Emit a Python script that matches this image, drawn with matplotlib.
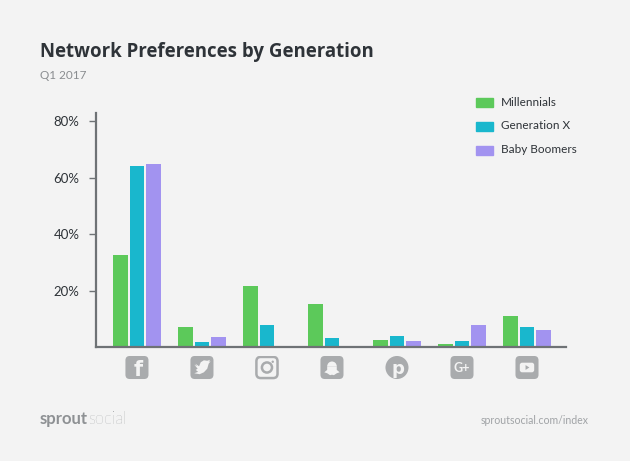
import matplotlib
matplotlib.use("Agg")
import matplotlib.pyplot as plt
from matplotlib.patches import FancyBboxPatch, Circle, Polygon, Wedge, Rectangle
import numpy as np

networks = ["Facebook", "Twitter", "Instagram", "Snapchat", "Pinterest", "Google+", "YouTube"]
millennials = [32.6, 7.1, 21.7, 15.4, 2.4, 1.0, 11.1]
gen_x = [64.3, 1.9, 7.9, 3.1, 3.8, 2.1, 7.2]
boomers = [64.9, 3.7, 0.0, 0.0, 2.3, 7.7, 6.1]
series_names = ["Millennials", "Generation X", "Baby Boomers"]
y_ticks = [20, 40, 60, 80]
y_labels = ["20%", "40%", "60%", "80%"]

bg = "#f3f3f3"
colors = ["#5cc95a", "#19b7cd", "#a293f0"]
icon_col = "#a9abad"
axis_col = "#6e7275"
text_col = "#2e3338"

plt.rcParams["font.family"] = ["Lato", "DejaVu Sans"]

W, H = 630, 461
fig = plt.figure(figsize=(6.3, 4.61), dpi=100, facecolor=bg)
ax = fig.add_axes([96 / W, 1 - 347 / H, (566 - 96) / W, (347 - 113) / H])
ax.set_facecolor(bg)

x = np.arange(len(networks))
off = 0.25
bw = 0.225
for i, vals in enumerate([millennials, gen_x, boomers]):
    ax.bar(x + (i - 1) * off, vals, width=bw, color=colors[i], label=series_names[i])

ax.set_xlim(-0.63, 6.6)
ax.set_ylim(0, 83)
ax.set_yticks(y_ticks)
ax.set_yticklabels(y_labels, fontsize=9.5, color=text_col)
ax.set_xticks([])
for s in ["top", "right"]:
    ax.spines[s].set_visible(False)
for s in ["left", "bottom"]:
    ax.spines[s].set_color(axis_col)
    ax.spines[s].set_linewidth(1.6)
ax.tick_params(axis="y", length=5, width=1, color=axis_col, pad=7)

# legend drawn by hand
for i, name in enumerate(series_names):
    yy = 1 - (102 + i * 23.8) / H
    fig.patches.append(Rectangle((476 / W, yy - 5 / H), 17 / W, 9 / H,
                                 transform=fig.transFigure, color=colors[i]))
    fig.text(501 / W, yy, name, fontsize=8.5, color=text_col, va="center")

fig.text(40 / W, 1 - 57 / H, "Network Preferences by Generation", fontsize=13.4,
         fontweight="bold", color=text_col, va="baseline", family=["Open Sans", "DejaVu Sans"])
fig.text(40 / W, 1 - 79 / H, "Q1 2017", fontsize=8.5, color="#8a8d90", va="baseline")

# footer logo: "social" placed right after "sprout"
sprout = fig.text(40 / W, 1 - 424 / H, "sprout", fontsize=12, fontweight="bold",
                  color="#8e9194", va="baseline")
fig.canvas.draw()
bb = sprout.get_window_extent()
fig.text(bb.x1 / W, 1 - 424 / H, "social", fontsize=12, fontweight="light",
         color="#8a8d90", va="baseline")
fig.text(589 / W, 1 - 424 / H, "sproutsocial.com/index", fontsize=7.6, color="#a0a3a6",
         va="baseline", ha="right")

# icons under each category
size = 24
for i, name in enumerate(networks):
    cx, _ = ax.transData.transform((x[i], 0))
    cy = 367.5
    iax = fig.add_axes([(cx - size / 2) / W, 1 - (cy + size / 2) / H, size / W, size / H])
    iax.set_xlim(0, 1)
    iax.set_ylim(0, 1)
    iax.axis("off")
    box = dict(boxstyle="round,pad=0,rounding_size=0.18")
    if name == "Instagram":
        iax.add_patch(FancyBboxPatch((0.06, 0.06), 0.88, 0.88, fc="none", ec=icon_col, lw=1.8, **box))
        iax.add_patch(Circle((0.5, 0.5), 0.21, fc="none", ec=icon_col, lw=1.8))
        iax.add_patch(Circle((0.74, 0.74), 0.05, fc=icon_col, ec="none"))
        continue
    if name == "Pinterest":
        iax.add_patch(Circle((0.5, 0.5), 0.48, fc=icon_col, ec="none"))
        iax.text(0.52, 0.45, "p", fontsize=13, fontweight="bold", color=bg, ha="center", va="center",
                 family="DejaVu Sans")
        continue
    iax.add_patch(FancyBboxPatch((0.02, 0.02), 0.96, 0.96, fc=icon_col, ec="none", **box))
    if name == "Facebook":
        iax.text(0.56, 0.4, "f", fontsize=15, fontweight="bold", color=bg, ha="center", va="center",
                 family="DejaVu Sans")
    elif name == "Twitter":
        bird = [(0.18, 0.62), (0.3, 0.55), (0.22, 0.66), (0.38, 0.55), (0.45, 0.72), (0.58, 0.8),
                (0.72, 0.78), (0.84, 0.82), (0.78, 0.74), (0.86, 0.76), (0.78, 0.66), (0.72, 0.45),
                (0.58, 0.3), (0.4, 0.22), (0.18, 0.26), (0.34, 0.32), (0.24, 0.4), (0.32, 0.45)]
        iax.add_patch(Polygon(bird, closed=True, fc=bg, ec="none"))
    elif name == "Snapchat":
        iax.add_patch(Wedge((0.5, 0.55), 0.2, 0, 180, fc=bg, ec="none"))
        ghost = [(0.3, 0.55), (0.3, 0.4), (0.18, 0.3), (0.3, 0.26), (0.42, 0.18), (0.5, 0.2),
                 (0.58, 0.18), (0.7, 0.26), (0.82, 0.3), (0.7, 0.4), (0.7, 0.55)]
        iax.add_patch(Polygon(ghost, closed=True, fc=bg, ec="none"))
    elif name == "Google+":
        iax.text(0.5, 0.47, "G+", fontsize=9, fontweight="bold", color=bg, ha="center", va="center")
    elif name == "YouTube":
        iax.add_patch(FancyBboxPatch((0.2, 0.3), 0.6, 0.4, fc=bg, ec="none",
                                     boxstyle="round,pad=0,rounding_size=0.1"))
        iax.add_patch(Polygon([(0.44, 0.4), (0.44, 0.6), (0.6, 0.5)], closed=True, fc=icon_col, ec="none"))

fig.savefig("out.png", dpi=100, facecolor=bg)
